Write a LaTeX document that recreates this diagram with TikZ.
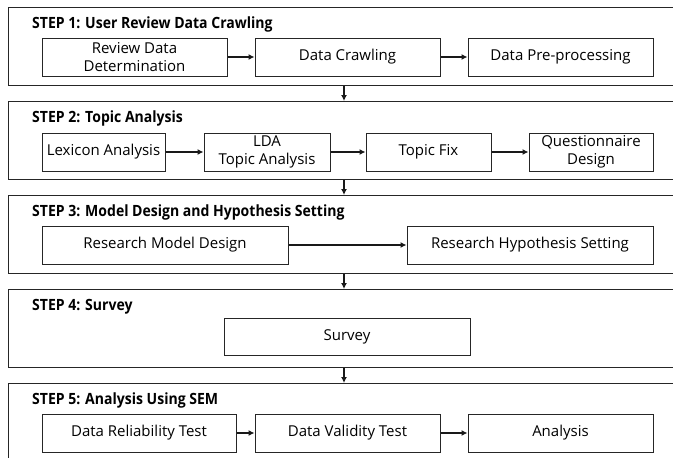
\documentclass[tikz,border=0pt]{standalone}
\usepackage{fontspec}
\setmainfont{Open Sans}
\newfontfamily\tfont[FakeStretch=0.905]{Open Sans}
\newfontfamily\bfont{Open Sans}
\usetikzlibrary{arrows.meta}
\begin{document}
\begin{tikzpicture}[x=1pt,y=-1pt,
  frame/.style={draw=black!85,line width=1.1pt,anchor=north west,minimum width=675pt,minimum height=78pt,inner sep=0pt},
  title/.style={anchor=base west,inner sep=0pt,font=\tfont\bfseries\fontsize{15.5}{17}\selectfont},
  box/.style={draw=black!85,line width=1pt,minimum height=38pt,inner sep=0pt,align=center,font=\bfont\fontsize{15}{18}\selectfont},
  arr/.style={-{Latex[length=6pt,width=6pt]},line width=1.3pt,black!90}]
\clip (0,0) rectangle (673,458);
\fill[white] (0,0) rectangle (673,458);
% frames
\node[frame] (s1) at (8,7) {};
\node[frame] (s2) at (8,101) {};
\node[frame] (s3) at (8,195) {};
\node[frame] (s4) at (8,289) {};
\node[frame] (s5) at (8,383) {};
% titles
\node[title] (t1) at (32,28) {STEP 1: User Review Data Crawling};
\node[title] (t2) at (32,122) {STEP 2: Topic Analysis};
\node[title] (t3) at (32,216) {STEP 3: Model Design and Hypothesis Setting};
\node[title] (t4) at (32,310) {STEP 4: Survey};
\node[title] (t5) at (32,404) {STEP 5: Analysis Using SEM};
% step 1
\node[box,minimum width=185pt] (rdd) at (134.5,57) {Review Data\\Determination};
\node[box,minimum width=185pt] (dc) at (347.5,57) {Data Crawling};
\node[box,minimum width=185pt] (dpp) at (560.5,57) {Data Pre-processing};
% step 2
\node[box,minimum width=123pt] (lex) at (103.5,152) {Lexicon Analysis};
\node[box,minimum width=126pt] (lda) at (267,152) {LDA\\Topic Analysis};
\node[box,minimum width=125pt] (tf) at (428.5,152) {Topic Fix};
\node[box,minimum width=124pt] (qd) at (591,152) {Questionnaire\\Design};
% step 3
\node[box,minimum width=246pt] (rmd) at (165,245) {Research Model Design};
\node[box,minimum width=246pt] (rhs) at (530,245) {Research Hypothesis Setting};
% step 4
\node[box,minimum width=246pt,minimum height=37pt] (sv) at (347,336.5) {Survey};
% step 5
\node[box,minimum width=194pt] (drt) at (139,433) {Data Reliability Test};
\node[box,minimum width=185pt] (dvt) at (347.5,433) {Data Validity Test};
\node[box,minimum width=185pt] (an) at (560.5,433) {Analysis};
% arrows inside steps
\draw[arr] (rdd) -- (dc);
\draw[arr] (dc) -- (dpp);
\draw[arr] (lex) -- (lda);
\draw[arr] (lda) -- (tf);
\draw[arr] (tf) -- (qd);
\draw[arr] (rmd) -- (rhs);
\draw[arr] (drt) -- (dvt);
\draw[arr] (dvt) -- (an);
% arrows between steps
\draw[arr] ([xshift=336pt]s1.south west) -- ([xshift=336pt]s2.north west);
\draw[arr] ([xshift=336pt]s2.south west) -- ([xshift=336pt]s3.north west);
\draw[arr] ([xshift=336pt]s3.south west) -- ([xshift=336pt]s4.north west);
\draw[arr] ([xshift=336pt]s4.south west) -- ([xshift=336pt]s5.north west);
\end{tikzpicture}
\end{document}
